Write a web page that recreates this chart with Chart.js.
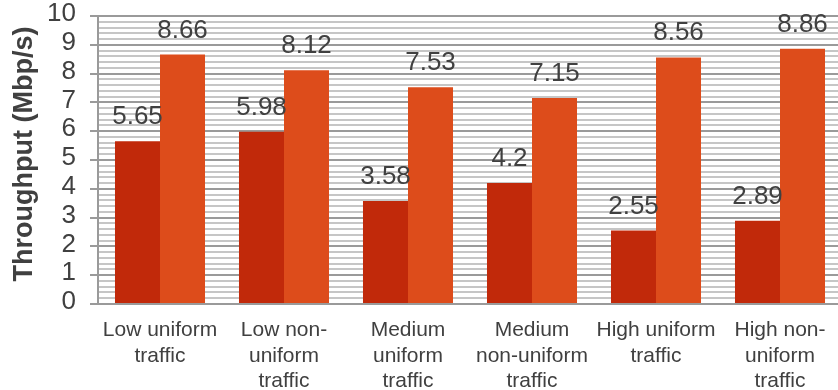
<!DOCTYPE html>
<html>
<head>
<meta charset="utf-8">
<script src="https://cdn.jsdelivr.net/npm/chart.js@4/dist/chart.umd.min.js"></script>
<style>
  html, body { margin: 0; padding: 0; background: #ffffff; overflow: hidden; }
  #wrap { width: 842px; height: 390px; position: relative; }
</style>
</head>
<body>
<div id="wrap"><canvas id="chart" width="842" height="390"></canvas></div>
<script>
// Traffic scenarios on the category axis (one line per array entry)
const categories = [
  ["Low uniform", "traffic"],
  ["Low non-", "uniform", "traffic"],
  ["Medium", "uniform", "traffic"],
  ["Medium", "non-uniform", "traffic"],
  ["High uniform", "traffic"],
  ["High non-", "uniform", "traffic"]
];

// Throughput values (Mbp/s) for the two series
const seriesA = [5.65, 5.98, 3.58, 4.2, 2.55, 2.89];
const seriesB = [8.66, 8.12, 7.53, 7.15, 8.56, 8.86];

// Value axis range and tick spacing
const yMin = 0;
const yMax = 10;
const yMinorStep = 0.2;
const yTitle = "Throughput (Mbp/s)";

const textColor = "#404040";
const fontFamily = "'Liberation Sans', Arial, sans-serif";
const isMajor = v => Math.abs(v - Math.round(v)) < 1e-6;

// Writes each bar's value above it
const valueLabels = {
  id: "valueLabels",
  afterDatasetsDraw(chart) {
    const ctx = chart.ctx;
    ctx.save();
    ctx.font = "26px " + fontFamily;
    ctx.fillStyle = textColor;
    ctx.textAlign = "center";
    ctx.textBaseline = "alphabetic";
    chart.data.datasets.forEach((ds, di) => {
      const meta = chart.getDatasetMeta(di);
      meta.data.forEach((bar, i) => {
        ctx.fillText(String(ds.data[i]), bar.x, bar.y - 17);
      });
    });
    ctx.restore();
  }
};

// Rotated value-axis title at the left edge
const axisTitle = {
  id: "axisTitle",
  afterDraw(chart) {
    const ctx = chart.ctx;
    ctx.save();
    ctx.translate(25, 154);
    ctx.rotate(-Math.PI / 2);
    ctx.font = "bold 27px " + fontFamily;
    ctx.fillStyle = textColor;
    ctx.textAlign = "center";
    ctx.textBaseline = "middle";
    ctx.fillText(yTitle, 0, 0);
    ctx.restore();
  }
};

new Chart(document.getElementById("chart"), {
  type: "bar",
  data: {
    labels: categories,
    datasets: [
      { data: seriesA, backgroundColor: "#C1290A", borderWidth: 0 },
      { data: seriesB, backgroundColor: "#DD4C1B", borderWidth: 0 }
    ]
  },
  options: {
    responsive: false,
    animation: false,
    devicePixelRatio: 1,
    layout: { padding: { top: 16, left: 0, right: 0, bottom: 0 } },
    plugins: {
      legend: { display: false },
      tooltip: { enabled: false }
    },
    datasets: {
      bar: { barPercentage: 1.0, categoryPercentage: 0.726 }
    },
    scales: {
      x: {
        grid: { display: false },
        border: { display: false },
        ticks: {
          color: textColor,
          font: { family: fontFamily, size: 21, lineHeight: 1.2 },
          maxRotation: 0,
          autoSkip: false,
          padding: 6
        },
        afterFit(scale) {
          scale.height = 86;
          scale.paddingLeft = 0;
          scale.paddingRight = 0;
        }
      },
      y: {
        min: yMin,
        max: yMax,
        border: { display: true, color: "#9a9a9a", width: 2 },
        grid: {
          color: ctx => isMajor(ctx.tick.value) ? "#9a9a9a" : "#c6c6c6",
          lineWidth: 2,
          drawTicks: true,
          tickLength: 8,
          tickColor: ctx => isMajor(ctx.tick.value) ? "#9a9a9a" : "rgba(0,0,0,0)"
        },
        ticks: {
          stepSize: yMinorStep,
          maxTicksLimit: 100,
          autoSkip: false,
          color: textColor,
          padding: 14,
          labelOffset: -2,
          font: { family: fontFamily, size: 26 },
          callback: v => isMajor(v) ? String(Math.round(v)) : ""
        },
        afterFit(scale) {
          scale.width = 98;
          scale.paddingTop = 0;
          scale.paddingBottom = 0;
        }
      }
    }
  },
  plugins: [valueLabels, axisTitle]
});
</script>
</body>
</html>
